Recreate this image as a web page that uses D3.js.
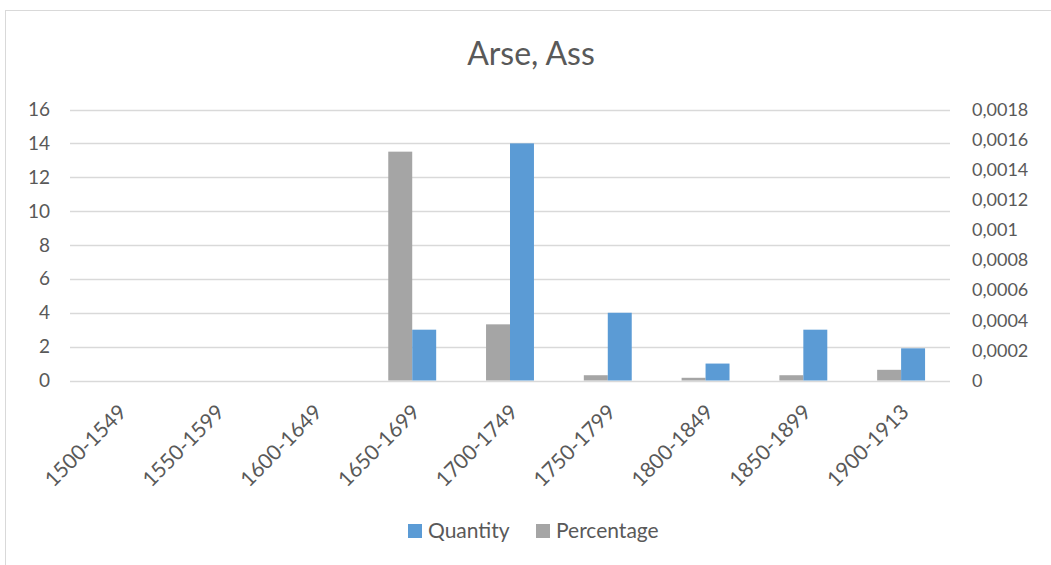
<!DOCTYPE html>
<html>
<head>
<meta charset="utf-8">
<script src="https://cdn.jsdelivr.net/npm/d3@7"></script>
<style>
  html, body { margin: 0; padding: 0; background: #fff; }
  svg { display: block; font-family: Lato, "Open Sans", sans-serif; }
</style>
</head>
<body>
<svg id="chart" width="1051" height="565"></svg>
<script>
const categories = ["1500-1549","1550-1599","1600-1649","1650-1699","1700-1749","1750-1799","1800-1849","1850-1899","1900-1913"];
const quantity   = [0, 0, 0, 3, 14, 4, 1, 3, 1.9];
const percentage = [0, 0, 0, 0.00152, 0.000373, 0.000035, 0.000018, 0.000035, 0.000071];
const leftTicks  = [0, 2, 4, 6, 8, 10, 12, 14, 16];
const rightTicks = [0, 0.0002, 0.0004, 0.0006, 0.0008, 0.001, 0.0012, 0.0014, 0.0016, 0.0018];
const seriesNames = ["Percentage", "Quantity"];
const legendNames = ["Quantity", "Percentage"];
const colors = { Quantity: "#5B9BD5", Percentage: "#A5A5A5" };

(function () {
const svg = d3.select("#chart");
const pLeft = 70, pRight = 950, pTop = 109.5, pBottom = 380.5;
const textColor = "#595959";

// chart border
svg.append("rect").attr("x", 5.5).attr("y", 10.5).attr("width", 1060).attr("height", 570)
  .attr("fill", "#fff").attr("stroke", "#D9D9D9").attr("stroke-width", 1);

// title
svg.append("text").attr("x", 531).attr("y", 65).attr("text-anchor", "middle")
  .attr("font-size", 32).attr("fill", textColor).text("Arse, Ass");

const x0 = d3.scaleBand().domain(categories).range([pLeft, pRight]).paddingInner(0.51).paddingOuter(0.255);
const x1 = d3.scaleBand().domain(seriesNames).range([0, x0.bandwidth()]);
const yL = d3.scaleLinear().domain([0, 16]).range([pBottom, pTop]);
const yR = d3.scaleLinear().domain([0, 0.0018]).range([pBottom, pTop]);

// gridlines
svg.append("g").selectAll("line").data(leftTicks).join("line")
  .attr("x1", pLeft).attr("x2", pRight)
  .attr("y1", d => Math.round(yL(d)) + 0.5).attr("y2", d => Math.round(yL(d)) + 0.5)
  .attr("stroke", "#D9D9D9").attr("stroke-width", 1.3);

// left axis
const axL = svg.append("g").attr("transform", `translate(${pLeft - 20},0)`)
  .call(d3.axisLeft(yL).tickValues(leftTicks).tickSize(0).tickPadding(0));
axL.select(".domain").remove();
axL.selectAll("text").attr("font-size", 19).attr("fill", textColor).attr("font-family", "Lato, sans-serif");

// right axis
const loc = d3.formatLocale({ decimal: ",", thousands: ".", grouping: [3], currency: ["", ""] });
const fmt = loc.format("~f");
const axR = svg.append("g").attr("transform", `translate(${pRight + 22},0)`)
  .call(d3.axisRight(yR).tickValues(rightTicks).tickFormat(fmt).tickSize(0).tickPadding(0));
axR.select(".domain").remove();
axR.selectAll("text").attr("font-size", 18).attr("fill", textColor).attr("font-family", "Lato, sans-serif");

// bars
const data = categories.map((c, i) => ({ c, Quantity: quantity[i], Percentage: percentage[i] }));
const g = svg.append("g");
data.forEach(d => {
  g.append("rect")
    .attr("x", x0(d.c) + x1("Percentage")).attr("width", x1.bandwidth())
    .attr("y", yR(d.Percentage)).attr("height", pBottom - yR(d.Percentage))
    .attr("fill", colors.Percentage);
  g.append("rect")
    .attr("x", x0(d.c) + x1("Quantity")).attr("width", x1.bandwidth())
    .attr("y", yL(d.Quantity)).attr("height", pBottom - yL(d.Quantity))
    .attr("fill", colors.Quantity);
});

// x labels
const axX = svg.append("g").attr("transform", `translate(0,${pBottom})`)
  .call(d3.axisBottom(x0).tickSize(0).tickPadding(0));
axX.select(".domain").remove();
axX.selectAll("text")
  .attr("font-size", 21).attr("fill", textColor).attr("font-family", "Lato, sans-serif")
  .attr("text-anchor", "end").attr("dy", null).attr("y", 0)
  .attr("transform", "translate(9,33) rotate(-45)");

// legend
const lg = svg.append("g");
const legX = [408, 536];
legendNames.forEach((n, i) => {
  lg.append("rect").attr("x", legX[i]).attr("y", 524).attr("width", 14).attr("height", 14).attr("fill", colors[n]);
  lg.append("text").attr("x", legX[i] + 20).attr("y", 538).attr("font-size", 21).attr("fill", textColor).text(n);
});
})();
</script>
</body>
</html>
